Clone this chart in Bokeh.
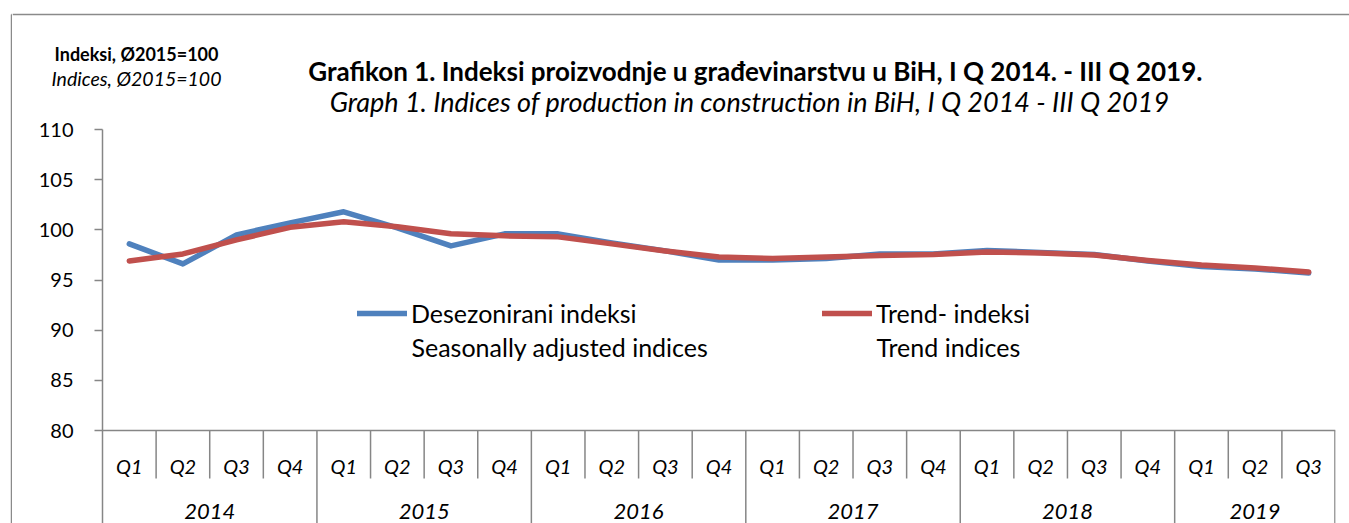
from bokeh.plotting import figure
from bokeh.layouts import column, row
from bokeh.models import (FactorRange, Range1d, FixedTicker, Label, Legend, LegendItem,
                          ColumnDataSource, Span)
from bokeh.core.properties import value
from bokeh.embed import file_html
from bokeh.resources import INLINE

# ---------------- data ----------------
years = ["2014", "2015", "2016", "2017", "2018", "2019"]
quarters_per_year = [["Q1", "Q2", "Q3", "Q4"]] * 5 + [["Q1", "Q2", "Q3"]]
seasonally_adjusted = [98.6, 96.6, 99.5, 100.7, 101.8, 100.2, 98.4, 99.6, 99.6, 98.7, 97.9, 97.0,
                       97.0, 97.15, 97.6, 97.6, 97.95, 97.75, 97.55, 96.9, 96.35, 96.1, 95.7]
trend = [96.9, 97.6, 99.0, 100.25, 100.8, 100.3, 99.6, 99.4, 99.3, 98.6, 97.9, 97.3,
         97.15, 97.3, 97.45, 97.55, 97.8, 97.7, 97.5, 96.95, 96.5, 96.2, 95.8]
y_ticks = [80, 85, 90, 95, 100, 105, 110]

title_bs = "Grafikon 1. Indeksi  proizvodnje u građevinarstvu u BiH, I Q 2014. - III Q 2019."
title_en = "Graph 1. Indices of production in construction in BiH, I Q 2014 - III Q 2019"
unit_bs = "Indeksi, Ø2015=100"
unit_en = "Indices, Ø2015=100"
legend_sa = ["Desezonirani indeksi", "Seasonally adjusted indices"]
legend_tr = ["Trend- indeksi", "Trend indices"]

factors = [(y, q) for y, qs in zip(years, quarters_per_year) for q in qs]

# ---------------- layout constants (page pixels, origin top-left) ----------------
FONT = "Lato"
GRAY = "#868686"
BORDER_GRAY = "#8a8a8a"
BLUE = "#4F81BD"
RED = "#C0504D"
PAGE_W, PAGE_H = 1349, 523
STRIP_W = 12                    # left strip carrying the outer border line
W = PAGE_W - STRIP_W
TOP_H = 117                     # header figure: page y 0..117
FRAME_LEFT, FRAME_RIGHT, FRAME_TOP, FRAME_BOTTOM = 102, 1335, 129, PAGE_H
PX_PER_UNIT = (430 - 129) / 30.0
Y_TOP = 110
Y_BOTTOM = Y_TOP - (FRAME_BOTTOM - FRAME_TOP) / PX_PER_UNIT
BORDER_X, BORDER_Y = 11, 14


def data_y(py):
    return Y_TOP - (py - FRAME_TOP) / PX_PER_UNIT


def sx(px):
    return px - FRAME_LEFT


def sy(py):
    return FRAME_BOTTOM - py


def no_align(f):
    try:
        f.frame_align = False
    except Exception:
        pass


def blank(width, height):
    f = figure(width=width, height=height, frame_width=width, frame_height=height,
               x_range=Range1d(0, width), y_range=Range1d(height, 0),
               output_backend="svg", toolbar_location=None,
               x_axis_location=None, y_axis_location=None, min_border=0)
    f.outline_line_color = None
    f.grid.visible = False
    no_align(f)
    return f


# ---------------- left strip: outer border ----------------
s = blank(STRIP_W, PAGE_H)
s.segment(x0=[BORDER_X, BORDER_X], y0=[BORDER_Y, BORDER_Y], x1=[BORDER_X, STRIP_W],
          y1=[PAGE_H, BORDER_Y], line_color=BORDER_GRAY, line_width=1.5)

# ---------------- header (titles) ----------------
t = blank(W, TOP_H)
t.segment(x0=[0], y0=[BORDER_Y], x1=[W], y1=[BORDER_Y], line_color=BORDER_GRAY, line_width=1.5)
head = [
    (unit_bs, 136, 53, "bold", "18px"),
    (unit_en, 136, 78, "italic", "19.5px"),
    (title_bs, 758, 70, "bold", "26px"),
    (title_en, 749, 100.5, "italic", "27px"),
]
for txt, px, py, style, size in head:
    t.text(x=[px - STRIP_W], y=[py], text=[txt], text_font=value(FONT),
           text_font_style=style, text_font_size=size, text_align="center",
           text_baseline="middle", text_color="black")

# ---------------- chart ----------------
p = figure(x_range=FactorRange(factors=factors, factor_padding=0, group_padding=0,
                               subgroup_padding=0, range_padding=0),
           y_range=Range1d(Y_BOTTOM, Y_TOP),
           width=W, height=PAGE_H - TOP_H, output_backend="svg",
           toolbar_location=None, x_axis_location=None,
           min_border_left=FRAME_LEFT - STRIP_W, min_border_right=PAGE_W - FRAME_RIGHT,
           min_border_top=FRAME_TOP - TOP_H, min_border_bottom=0)
p.outline_line_color = None
p.grid.visible = False
no_align(p)

ax = p.yaxis[0]
ax.ticker = FixedTicker(ticks=y_ticks)
ax.minor_tick_line_color = None
ax.major_tick_out = 8
ax.major_tick_in = 0
ax.axis_line_color = GRAY
ax.axis_line_width = 1.5
ax.major_tick_line_color = GRAY
ax.major_tick_line_width = 1.5
ax.major_label_text_font = FONT
ax.major_label_text_font_size = "20px"
ax.major_label_text_color = "black"
ax.major_label_standoff = 21

# x axis line + category separators
p.add_layout(Span(location=80, dimension="width", line_color=GRAY, line_width=1.5))
q_sep, y_sep = [], []
for y, qs in zip(years, quarters_per_year):
    for q in qs[:-1]:
        q_sep.append((y, q, 0.5))
    y_sep.append((y, qs[-1], 0.5 if y != years[-1] else 0.49))
p.segment(x0=q_sep, x1=q_sep, y0=[80] * len(q_sep), y1=[data_y(478)] * len(q_sep),
          line_color=GRAY, line_width=1.5)
p.segment(x0=y_sep, x1=y_sep, y0=[80] * len(y_sep), y1=[Y_BOTTOM] * len(y_sep),
          line_color=GRAY, line_width=1.5)

# category labels
p.text(x=factors, y=[data_y(465)] * len(factors), text=[f[1] for f in factors],
       text_font=value(FONT), text_font_style="italic", text_font_size="20px",
       text_align="center", text_baseline="middle", text_color="black")
p.text(x=years, y=[data_y(511)] * len(years), text=years,
       text_font=value(FONT), text_font_style="italic", text_font_size="22px",
       text_align="center", text_baseline="middle", text_color="black")

# series
src = ColumnDataSource(dict(x=factors, sa=seasonally_adjusted, tr=trend))
r_sa = p.line("x", "sa", source=src, line_color=BLUE, line_width=5.5,
              line_cap="round", line_join="round")
r_tr = p.line("x", "tr", source=src, line_color=RED, line_width=5.5,
              line_cap="round", line_join="round")

# legend
leg = Legend(items=[LegendItem(label=legend_sa[0], renderers=[r_sa]),
                    LegendItem(label=legend_tr[0], renderers=[r_tr])],
             orientation="horizontal", location=(sx(357), sy(329)),
             padding=0, spacing=0, margin=0, glyph_width=50, glyph_height=32,
             label_height=32, label_standoff=4, label_width=411,
             label_text_font=FONT, label_text_font_size="25px", label_text_color="black",
             border_line_color=None, background_fill_alpha=0)
p.add_layout(leg)
for txt, px in [(legend_sa[1], 411), (legend_tr[1], 876)]:
    p.add_layout(Label(x=sx(px), y=sy(346), x_units="screen", y_units="screen", text=txt,
                       text_font=FONT, text_font_size="25px", text_align="left",
                       text_baseline="middle", text_color="black"))

layout = row(s, column(t, p, spacing=0), spacing=0)
open("out.html", "w").write(file_html(layout, INLINE))
